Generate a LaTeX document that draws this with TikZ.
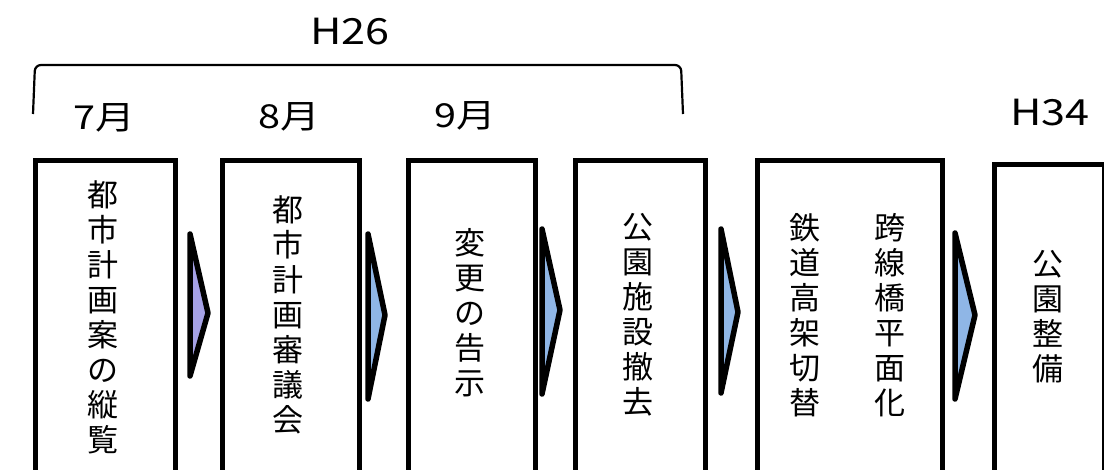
\documentclass[tikz,border=0pt]{standalone}
\usepackage{fontspec}
\setmainfont{Noto Sans CJK JP}
\newfontfamily\labfont[FakeStretch=1.2]{Noto Sans CJK JP}
\definecolor{lav}{HTML}{A6A2E6}
\definecolor{lblue}{HTML}{8FB6E6}
\begin{document}
\begin{tikzpicture}[x=1pt,y=-1pt,
  box/.style={draw=black, line width=5pt, fill=white, minimum height=360pt, anchor=north west, inner sep=0pt},
  vtext/.style={font=\fontsize{31}{35}\selectfont, align=center, inner sep=0pt},
  lab/.style={font=\labfont\fontsize{33}{36}\selectfont, inner sep=0pt},
  hlab/.style={font=\labfont\fontsize{36}{40}\selectfont, inner sep=0pt},
  chev/.style={draw=black, line width=5.5pt, line join=round, line cap=round, fill=#1}]
\useasboundingbox (0,0) rectangle (1104,469);
\clip (0,0) rectangle (1104,469);
\fill[white] (0,0) rectangle (1104,469);

% bracket and labels
\draw[line width=2.2pt, rounded corners=6pt] (33,114) -- (35,65) -- (681,65) -- (683,114);
\node[hlab] (h26) at (350,32) {H26};
\node[lab] (m7) at (104,118) {7月};
\node[lab] (m8) at (289,117) {8月};
\node[lab] (m9) at (465,116) {9月};
\node[hlab] (h34) at (1050,113) {H34};

% boxes
\node[box, minimum width=140pt] (b1) at (33,158) {};
\node[box, minimum width=137pt] (b2) at (220,158) {};
\node[box, minimum width=127pt] (b3) at (406,158) {};
\node[box, minimum width=130pt] (b4) at (573,158) {};
\node[box, minimum width=185pt] (b5) at (755,158) {};
\node[box, minimum width=110pt] (b6) at (992,162) {};

% box texts
\node[vtext] (t1) at (103,317) {都\\市\\計\\画\\案\\の\\縦\\覧};
\node[vtext] (t2) at (288,315) {都\\市\\計\\画\\審\\議\\会};
\node[vtext] (t3) at (470,313) {変\\更\\の\\告\\示};
\node[vtext] (t4) at (638,315) {公\\園\\施\\設\\撤\\去};
\node[vtext] (t5a) at (805,315) {鉄\\道\\高\\架\\切\\替};
\node[vtext] (t5b) at (890,315) {跨\\線\\橋\\平\\面\\化};
\node[vtext] (t6) at (1048,317) {公\\園\\整\\備};

% chevrons
\draw[chev=lav]   (190,234) -- (208,313) -- (190,376) -- cycle;
\draw[chev=lblue] (368,234) -- (385,315) -- (368,399) -- cycle;
\draw[chev=lblue] (542,229) -- (560,310) -- (542,394) -- cycle;
\draw[chev=lblue] (721,229) -- (738,312) -- (721,393) -- cycle;
\draw[chev=lblue] (955,233) -- (975,315) -- (955,399) -- cycle;
\end{tikzpicture}
\end{document}
